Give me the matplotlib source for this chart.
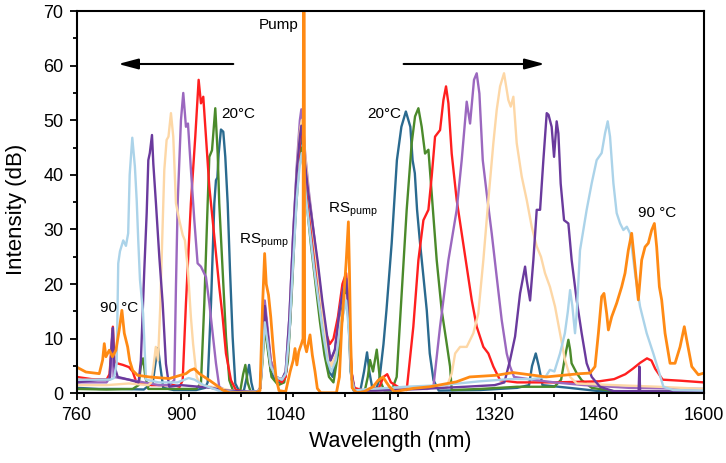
import matplotlib
matplotlib.use("Agg")
import matplotlib.pyplot as plt
from matplotlib.ticker import MultipleLocator

plt.rcParams["font.family"] = ["Liberation Sans", "DejaVu Sans"]
plt.rcParams["mathtext.fontset"] = "custom"
plt.rcParams["mathtext.rm"] = "Liberation Sans"
plt.rcParams["mathtext.it"] = "Liberation Sans:italic"

# Spectra recorded from 20 °C to 90 °C: (wavelength nm, intensity dB)
spec_20C = [(760, 1.0), (790, 0.8), (820, 0.8), (850, 0.7), (862, 2), (866, 6), (869, 8.3), (872, 5), (876, 1),
            (890, 0.6), (920, 0.6), (932, 1), (935.5, 2), (940, 16.5), (944.4, 34.8), (946.6, 39), (948.5, 39.5),
            (950.2, 43.9), (953.3, 48.3), (956.4, 47.9), (959.1, 43.3), (962.3, 34.8), (965.4, 22.6), (968.9, 10.4),
            (972.5, 1.8), (978, 0.3), (984, 0.5), (988, 3), (991, 5.2), (994, 2), (997, 0.3),
            (1003, 0.3), (1006, 1), (1009, 7), (1012, 14), (1015, 10), (1020, 4), (1028, 2), (1036, 2), (1041, 4),
            (1046, 13), (1051, 28), (1056, 40), (1060, 46), (1062, 47), (1065, 43), (1069, 36), (1075, 28),
            (1081, 21), (1087, 14), (1093, 8), (1098, 4), (1103, 3), (1110, 9), (1116, 16), (1121, 20), (1124, 14),
            (1127, 4), (1131, 0.5), (1140, 0.5), (1145, 4), (1149, 7.5), (1152, 4), (1156, 1), (1162, 1), (1166, 3),
            (1171, 9), (1175, 15.2), (1182, 27.5), (1189, 42.7), (1195, 48.8), (1201, 51.6), (1207, 48.8),
            (1210, 42.7), (1213, 40.3), (1216, 33.6), (1220, 27.5), (1224.5, 21.4), (1229, 15.2), (1233, 7.3),
            (1238, 2.4), (1245, 0.5), (1300, 0.6), (1350, 1), (1366, 1.5), (1370, 5), (1375, 7.3), (1379, 5),
            (1384, 1.5), (1420, 1), (1460, 0.4), (1600, 0.3)]

spec_30C = [(760, 0.8), (800, 0.7), (835, 0.8), (843, 1.5), (846, 5), (849, 6.4), (852, 3), (856, 0.8), (900, 0.8),
            (920, 0.8), (926.5, 1.8), (931, 16.5), (935.5, 34.8), (937.7, 43.3), (941.3, 44.5), (945.7, 52.2),
            (948.9, 43.9), (951, 34.8), (955.5, 22.6), (960, 10.4), (964.5, 2.4), (970, 0.3), (979, 0.3),
            (983, 3.5), (986, 5.2), (989, 2), (993, 0.3),
            (1003, 0.3), (1006, 1), (1009, 6), (1012, 12), (1016, 8), (1021, 3), (1030, 1.5), (1038, 2), (1043, 6),
            (1048, 18), (1053, 32), (1058, 42), (1061, 45), (1064, 41), (1068, 35), (1074, 27), (1080, 20),
            (1086, 13), (1092, 7), (1098, 3), (1104, 2), (1111, 8), (1117, 15), (1121, 19), (1125, 12), (1128, 3),
            (1133, 0.5), (1146, 0.5), (1150, 3), (1153, 6.1), (1157, 4), (1162, 8), (1166.4, 2.4), (1172, 0.5),
            (1182, 0.5), (1188.7, 3), (1195.4, 18.3), (1202.1, 33.6), (1208.8, 45.8), (1213.3, 50.7),
            (1217.8, 52.2), (1222.2, 48.8), (1226.7, 43.9), (1231.2, 44.6), (1235.6, 36.6), (1242.3, 24.4),
            (1249, 15.2), (1255.7, 9.1), (1260.2, 4.9), (1262.4, 0.6), (1300, 0.8), (1350, 1.2), (1400, 1.2),
            (1409, 2.5), (1414.2, 6.7), (1418.7, 9.8), (1421, 8), (1423, 5.5), (1429.8, 3.7), (1436.5, 2.4),
            (1450, 1), (1480, 0.4), (1600, 0.3)]

spec_40C = [(760, 3), (780, 2.6), (800, 2.5), (804, 3.5), (806.5, 8), (808.5, 12.2), (810.5, 6), (814, 5.5),
            (822, 5.2), (830, 4.8), (835, 4), (840, 2), (860, 1.5), (890, 1.5), (898, 1.2), (902, 2.4),
            (906.4, 16.5), (913, 34.8), (918.9, 47), (923.4, 57.4), (926.5, 53.1), (929.6, 54.3), (933.2, 47),
            (937.7, 37.8), (942.2, 31.7), (946.6, 25.6), (951, 19.5), (955.5, 14), (960, 7.3), (966.7, 2.4),
            (973.4, 0.6), (985, 0.3),
            (1003, 0.3), (1006, 1), (1009, 8), (1012, 16), (1015, 12), (1020, 6), (1027, 3), (1035, 2), (1040, 3),
            (1045, 12), (1050, 26), (1055, 40), (1060, 47), (1063, 48), (1066, 42), (1070, 36), (1076, 29),
            (1082, 22), (1088, 16), (1094, 11), (1099, 9), (1104, 10), (1110, 14), (1116, 20), (1121, 22),
            (1125, 15), (1128, 4), (1132, 1), (1145, 0.5), (1165, 1), (1171, 3), (1176, 3.5), (1181, 2),
            (1195, 0.8), (1202.1, 0.6), (1211, 12.2), (1217.8, 24.4), (1224.5, 31.7), (1231.2, 33.6),
            (1235.6, 39.7), (1240.1, 47), (1246.8, 48.2), (1251.3, 53.7), (1254.8, 56.2), (1258, 53.1),
            (1262.4, 43.9), (1269.1, 35.4), (1275.8, 29.3), (1282.5, 23.2), (1289.2, 17.1), (1295.9, 12.2),
            (1304.8, 8.5), (1311.5, 7.3), (1318.2, 4.9), (1327.2, 2.4), (1350, 2), (1400, 2), (1460, 2.2),
            (1480, 2.6), (1495, 3.5), (1505, 4.5), (1515, 5.6), (1524, 6.4), (1530, 6), (1535, 4.5), (1545, 2.5),
            (1570, 2.3), (1600, 2)]

spec_50C = [(760, 2), (780, 2), (800, 2), (805, 3), (807.5, 11), (809.5, 3), (830, 2.5), (850, 2), (870, 1.5),
            (884, 1.5), (890.8, 2.4), (893, 19.5), (895.3, 34.8), (899.7, 50), (902.8, 55), (906.4, 48.8),
            (909.1, 49.4), (913.1, 40.9), (917.6, 31.7), (922, 23.8), (926.5, 23.2), (933.2, 21.3), (937.7, 16.5),
            (946.6, 5.5), (951, 1.2), (960, 0.5), (990, 0.3),
            (1003, 0.3), (1006, 1), (1009, 9), (1012, 17), (1015, 13), (1020, 6), (1027, 3), (1035, 2.5), (1040, 4),
            (1045, 14), (1050, 29), (1055, 42), (1059, 50), (1061, 52), (1063, 50), (1066, 44), (1071, 37),
            (1077, 30), (1083, 23), (1089, 16), (1095, 10), (1100, 6), (1106, 8), (1112, 15), (1117, 19),
            (1121, 21), (1125, 14), (1128, 4), (1132, 0.5), (1160, 0.5), (1200, 0.8), (1230, 0.8), (1237.9, 1.2),
            (1246.8, 12.2), (1258, 24.4), (1269.1, 33.6), (1275.8, 42.7), (1282.5, 53.4), (1287, 49.4),
            (1292.3, 57.4), (1295.9, 58.6), (1299.5, 54.9), (1304, 42.7), (1309.3, 36.6), (1316, 29.3),
            (1322.7, 21.3), (1329.4, 13.4), (1336.1, 7.3), (1340.6, 4.9), (1346, 3), (1370, 2.5), (1400, 2),
            (1440, 1.5), (1500, 1), (1600, 0.8)]

spec_60C = [(760, 1.5), (800, 1.5), (830, 1.8), (856, 1.5), (860, 2), (863, 5), (866, 8.5), (869, 6), (872, 16),
            (875, 30), (877.4, 40.9), (880.5, 46.4), (883, 47), (886.3, 51.3), (889.4, 47), (893, 34.8),
            (897.5, 31.7), (902, 29), (905, 28), (909, 22.6), (913, 14), (916, 9), (920.8, 3), (926, 1.5),
            (950, 1), (975, 0.3),
            (1003, 0.3), (1006, 1), (1009, 7), (1012, 14), (1015, 11), (1020, 5), (1027, 3), (1035, 2.5), (1040, 4),
            (1045, 13), (1050, 28), (1055, 41), (1059, 48), (1061.5, 50), (1064, 47), (1067, 42), (1072, 35),
            (1078, 28), (1084, 21), (1090, 14), (1096, 8), (1101, 5), (1107, 7), (1113, 13), (1118, 16),
            (1121, 18), (1125, 12), (1128, 3), (1132, 0.5), (1160, 0.5), (1200, 0.8), (1240, 1), (1255, 1),
            (1262.4, 3.6), (1267, 7.3), (1273.6, 8.5), (1282.5, 8.5), (1291.4, 11), (1298, 14.6), (1304.8, 24.4),
            (1311.5, 35.4), (1318.2, 45.8), (1322.7, 51.9), (1327.2, 56.2), (1332.5, 58.6), (1338.3, 53.7),
            (1341.5, 52.5), (1345, 54.3), (1349.5, 45.8), (1356.2, 39.7), (1362.9, 35.4), (1369.6, 30.5),
            (1376.3, 26.9), (1382, 25), (1387.4, 22), (1394, 19.5), (1400.8, 15.9), (1407.5, 11), (1414.2, 6.1),
            (1421, 3), (1430, 1.8), (1480, 1.5), (1540, 1.2), (1600, 0.8)]

spec_70C = [(760, 2), (790, 2.5), (804, 2.5), (806.5, 8), (808.5, 12), (810.5, 5), (815, 3), (830, 2.5), (843, 2),
            (846, 6), (850.6, 22.6), (853.8, 33), (856, 42.7), (858, 44), (860.9, 47.3), (862.7, 42),
            (866.2, 34.8), (870.7, 25), (875.2, 16.5), (879.6, 5.4), (884, 1.2), (900, 1.5), (940, 1), (960, 0.5),
            (990, 0.3),
            (1003, 0.3), (1006, 1), (1009, 9), (1012, 16), (1015, 12), (1020, 5), (1027, 3), (1035, 2.5), (1040, 4),
            (1045, 14), (1050, 29), (1055, 41), (1059, 47), (1061, 49), (1063, 47), (1066, 42), (1071, 36),
            (1077, 30), (1083, 24), (1089, 17), (1095, 11), (1100, 6), (1106, 8), (1112, 15), (1117, 19),
            (1121, 21), (1125, 13), (1128, 4), (1132, 0.5), (1160, 0.5), (1220, 0.8), (1280, 1.2), (1320, 1.5),
            (1333, 2), (1340.6, 6.1), (1347.3, 10.4), (1354, 18.3), (1360.7, 23.2), (1362.9, 20.7), (1367.4, 17),
            (1371.8, 24.4), (1376.3, 33.6), (1380.8, 33.6), (1385.2, 42.7), (1389.7, 51.3), (1392.1, 51),
            (1396.3, 48.8), (1399.5, 43.3), (1403, 49.8), (1405.3, 47.6), (1408.4, 38.4), (1412.9, 31.7),
            (1418.7, 31.1), (1423.1, 24.4), (1429.8, 17.1), (1436.5, 11), (1443.2, 5.5), (1450, 3), (1461, 1.2),
            (1479, 0.4), (1512.8, 0.4), (1513.8, 4.9), (1514.8, 0.4), (1600, 0.3)]

spec_80C = [(760, 2.5), (790, 2.5), (805, 2.5), (810, 2.8), (813.6, 5.5), (815.7, 23.8), (818, 26), (822.4, 28),
            (826, 27), (829, 29.3), (831, 40), (834.5, 46.8), (838, 41.5), (840.4, 35.4), (842.5, 28),
            (844.8, 20.8), (849, 14.6), (851.5, 6.7), (853, 2.5), (870, 2), (895, 2), (910, 2.8), (918, 2.5),
            (930, 1.5), (950, 0.5), (975, 0.2),
            (1003, 0.3), (1006, 1), (1009, 7), (1012, 13), (1015, 10), (1020, 5), (1027, 3), (1035, 2.5),
            (1040, 3.5), (1045, 11), (1050, 24), (1055, 36), (1059, 42), (1061.5, 44), (1064, 41), (1067, 36),
            (1072, 30), (1078, 23), (1084, 17), (1090, 11), (1096, 6), (1101, 4), (1107, 6), (1113, 12),
            (1118, 15), (1121, 17), (1125, 11), (1128, 3), (1132, 0.5), (1150, 0.8), (1180, 1), (1200, 1.2),
            (1250, 1.5), (1300, 2.2), (1340, 2.6), (1370, 2.6), (1388, 3), (1394, 4.3), (1400, 4), (1407.5, 7.3),
            (1414, 11), (1418, 15), (1421, 18.9), (1424, 16), (1427.6, 11), (1430, 15), (1434.3, 26.2),
            (1443.2, 33.6), (1450, 38.5), (1456.6, 42.7), (1463.3, 44), (1467.8, 47.6), (1471.4, 49.8),
            (1474.5, 47), (1479, 38.5), (1483.4, 33), (1488, 31.1), (1492.4, 29.9), (1497, 30.5), (1501.3, 29.3),
            (1508, 22), (1514.7, 15.9), (1523.6, 11), (1532.5, 7.3), (1539.2, 4.3), (1546, 1.2), (1559, 0.6),
            (1600, 0.5)]

spec_90C = [(760, 4.8), (772.4, 3.9), (790.3, 3.6), (794.8, 6.1), (797, 9.1), (799.2, 6.7), (803.7, 7.9),
            (808, 6.7), (812.6, 7.9), (817, 11.6), (820.6, 15.2), (823.8, 11), (828.3, 8.5), (831, 6), (835, 4.2),
            (841.6, 3.3), (857.3, 3), (884, 2.7), (906.4, 3.6), (912, 4.2), (917.6, 4.5), (924.3, 3.6),
            (937.7, 2.4), (947, 1.5), (955.5, 0.6), (965, 0.1),
            (1000, 0.1), (1005.6, 0.5), (1009, 16), (1011.8, 25.6), (1014, 20), (1017, 18), (1020, 14),
            (1023.5, 8), (1027, 3), (1031, 0.5), (1040, 0.3), (1046, 4), (1050, 6), (1052.5, 8.2), (1055, 5.2),
            (1057.5, 7.6), (1061, 9), (1063.2, 10), (1063.8, 72), (1064.8, 72), (1065.4, 9), (1068, 7.6),
            (1072.6, 10.7), (1075.7, 7), (1079.3, 4), (1082.4, 0.9), (1087, 0.1), (1108, 0.1), (1112, 3),
            (1115, 12), (1118, 18), (1121, 24), (1124, 31.4), (1125.5, 22), (1127, 10), (1129, 1), (1135, 0.1),
            (1145, 0.3), (1157, 1.2), (1164, 2.4), (1170.4, 3), (1175, 2), (1179, 1.2), (1186, 0.3),
            (1210.6, 0.9), (1233, 1.2), (1268.6, 2.1), (1286.5, 3), (1322, 3.3), (1344.6, 3.8), (1389, 3),
            (1434, 3.6), (1447.7, 3.7), (1454.4, 4.9), (1458.9, 11), (1463.3, 17.7), (1466.4, 18.3), (1470, 14.6),
            (1472.3, 11.6), (1476.7, 14), (1483.4, 16.5), (1490.1, 19.5), (1494.6, 22), (1499, 26.2),
            (1503.5, 29.3), (1508, 23.2), (1512.4, 17.1), (1516.9, 24.4), (1521.4, 26.8), (1525.8, 27.5),
            (1530.3, 29.9), (1533.9, 31.1), (1537, 26.8), (1540.6, 19.5), (1543.7, 17.1), (1548.2, 11),
            (1554.9, 5.5), (1561.6, 5.5), (1568.3, 8.5), (1574, 12.2), (1577.2, 9.8), (1584, 4.9), (1592.8, 3.4),
            (1600, 3.7)]

spectra = [spec_20C, spec_30C, spec_40C, spec_50C, spec_60C, spec_70C, spec_80C, spec_90C]
colors = ["#2a6a8f", "#4b8a2b", "#ff1f1f", "#9b68bf", "#fdd7a6", "#6a3a9d", "#abd3e9", "#ff8a14"]
widths = [1.7, 1.7, 1.7, 1.7, 1.7, 1.7, 1.7, 2.0]

x_ticks = [760, 900, 1040, 1180, 1320, 1460, 1600]
y_ticks = [0, 10, 20, 30, 40, 50, 60, 70]

fig = plt.figure(figsize=(7.26, 4.63), dpi=100)
ax = fig.add_axes([0.1056, 0.1505, 0.8637, 0.8257])

for spec, c, lw in zip(spectra, colors, widths):
    wl = [p[0] for p in spec]
    db = [p[1] for p in spec]
    ax.plot(wl, db, color=c, lw=lw, solid_joinstyle="round")

ax.set_xlim(760, 1600)
ax.set_ylim(0, 70)
ax.set_xticks(x_ticks)
ax.set_yticks(y_ticks)
ax.xaxis.set_minor_locator(MultipleLocator(70))
ax.yaxis.set_minor_locator(MultipleLocator(5))
ax.tick_params(which="both", direction="out", top=False, right=False, width=1.3, labelsize=13)
ax.tick_params(which="major", length=5, pad=4.5)
ax.tick_params(which="minor", length=3)
for s in ax.spines.values():
    s.set_linewidth(1.5)

ax.text(0.5, -0.126, "Wavelength (nm)", transform=ax.transAxes, ha="center", va="center", fontsize=15.5)
ax.text(-0.0957, 0.482, "Intensity (dB)", transform=ax.transAxes, ha="center", va="center",
        rotation=90, fontsize=16)

# annotations
ax.text(1057, 66.7, "Pump", ha="right", va="baseline", fontsize=11)
ax.text(954.3, 50.5, "20°C", ha="left", va="baseline", fontsize=11)
ax.text(1149, 50.5, "20°C", ha="left", va="baseline", fontsize=11)
ax.text(791.2, 14.8, "90 °C", ha="left", va="baseline", fontsize=11)
ax.text(1511.6, 32.2, "90 °C", ha="left", va="baseline", fontsize=11)
ax.text(977.8, 27.5, r"RS$_{\mathrm{pump}}$", ha="left", va="baseline", fontsize=11)
ax.text(1097.1, 33.0, r"RS$_{\mathrm{pump}}$", ha="left", va="baseline", fontsize=11)

arrow = dict(arrowstyle="-|>,head_length=0.6,head_width=0.16", color="black", lw=1.5,
             mutation_scale=20, shrinkA=0, shrinkB=0)
ax.annotate("", xy=(815.7, 60.3), xytext=(969.8, 60.3), arrowprops=arrow)
ax.annotate("", xy=(1387, 60.3), xytext=(1198, 60.3), arrowprops=arrow)

fig.savefig("out.png", dpi=100)
